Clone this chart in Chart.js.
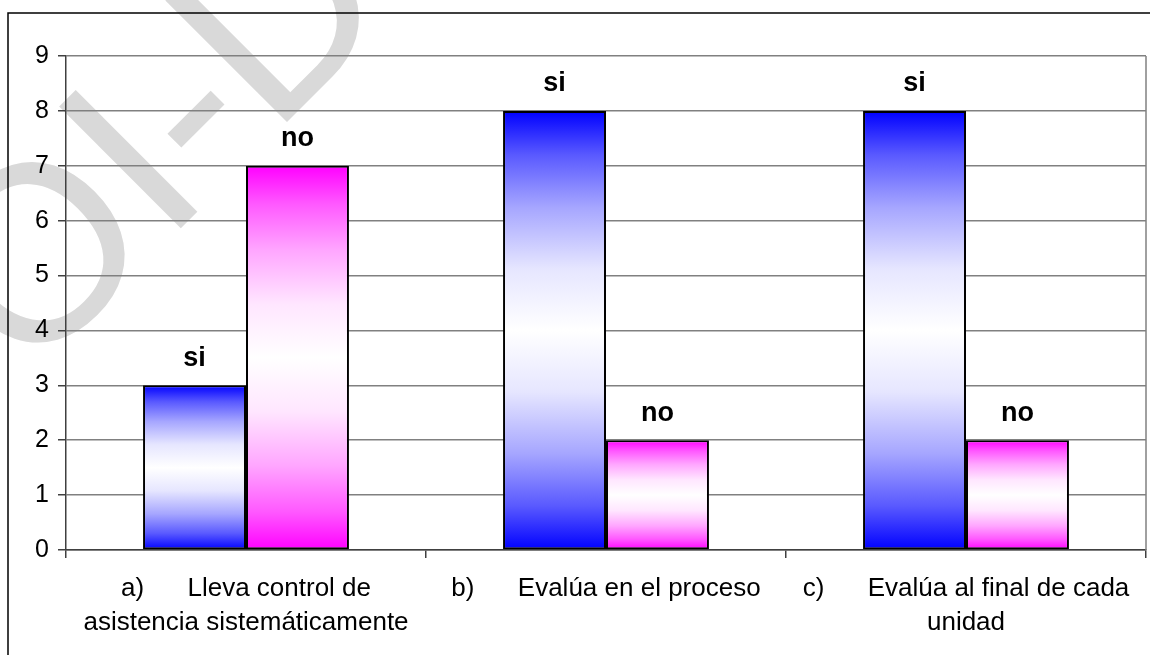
<!DOCTYPE html>
<html>
<head>
<meta charset="utf-8">
<script src="https://cdn.jsdelivr.net/npm/chart.js@4.4.1/dist/chart.umd.min.js"></script>
<style>
  html, body { margin: 0; padding: 0; background: #ffffff; }
  #wrap { width: 1150px; height: 655px; position: relative; }
</style>
</head>
<body>
<div id="wrap"><canvas id="barChart" width="1150" height="655"></canvas></div>
<script>
const categories = [
    ['a)      Lleva control de', 'asistencia sistemáticamente'],
    ['b)      Evalúa en el proceso'],
    ['c)      Evalúa al final de cada', 'unidad']
];
const seriesNames = ['si', 'no'];
const siValues = [3, 8, 8];
const noValues = [7, 2, 2];
const yTicks = [0, 1, 2, 3, 4, 5, 6, 7, 8, 9];
const watermarkText = 'OI-D';

const FONT = "'Liberation Sans', Arial, sans-serif";

// blend a hex colour toward white
function tint(hex, amount) {
    let r = parseInt(hex.substr(1, 2), 16);
    let g = parseInt(hex.substr(3, 2), 16);
    let b = parseInt(hex.substr(5, 2), 16);
    r = Math.round(r + (255 - r) * amount);
    g = Math.round(g + (255 - g) * amount);
    b = Math.round(b + (255 - b) * amount);
    return 'rgb(' + r + ',' + g + ',' + b + ')';
}

function barGradient(color) {
    return function (ctx) {
        const chart = ctx.chart;
        const y = chart.scales.y;
        if (!y || ctx.raw === undefined) {
            return color;
        }
        let top = y.getPixelForValue(ctx.raw);
        let bottom = y.getPixelForValue(0);
        if (!isFinite(top) || !isFinite(bottom) || bottom - top < 1) {
            return color;
        }
        let g = chart.ctx.createLinearGradient(0, top, 0, bottom);
        g.addColorStop(0, color);
        g.addColorStop(0.1, tint(color, 0.35));
        g.addColorStop(0.22, tint(color, 0.65));
        g.addColorStop(0.36, tint(color, 0.9));
        g.addColorStop(0.5, '#ffffff');
        g.addColorStop(0.64, tint(color, 0.9));
        g.addColorStop(0.78, tint(color, 0.65));
        g.addColorStop(0.9, tint(color, 0.35));
        g.addColorStop(1, color);
        return g;
    };
}

// watermark + outer frame, drawn under everything
const backdrop = {
    id: 'backdrop',
    beforeDraw(chart) {
        const c = chart.ctx;
        c.save();
        c.fillStyle = '#ffffff';
        c.fillRect(0, 0, chart.width, chart.height);
        c.translate(27, 382);
        c.rotate(-Math.PI / 4);
        c.fillStyle = '#d9d9d9';
        c.font = '250px ' + FONT;
        c.textAlign = 'left';
        c.textBaseline = 'alphabetic';
        c.fillText(watermarkText, 0, 0);
        c.restore();

        c.save();
        c.strokeStyle = '#000000';
        c.lineWidth = 1.5;
        c.beginPath();
        c.moveTo(8, chart.height);
        c.lineTo(8, 13);
        c.lineTo(chart.width, 13);
        c.stroke();
        c.restore();
    },
    beforeDatasetsDraw(chart) {
        const a = chart.chartArea;
        const c = chart.ctx;
        c.save();
        c.strokeStyle = '#808080';
        c.lineWidth = 1.5;
        c.beginPath();
        c.moveTo(a.right, a.top);
        c.lineTo(a.right, a.bottom);
        c.stroke();
        c.restore();
    }
};

// "si" / "no" above each bar
const barNames = {
    id: 'barNames',
    afterDatasetsDraw(chart) {
        const c = chart.ctx;
        c.save();
        c.font = 'bold 27px ' + FONT;
        c.fillStyle = '#000000';
        c.textAlign = 'center';
        c.textBaseline = 'middle';
        chart.data.datasets.forEach(function (ds, i) {
            chart.getDatasetMeta(i).data.forEach(function (bar) {
                c.fillText(ds.label, bar.x, bar.y - 27);
            });
        });
        c.restore();
    }
};

new Chart(document.getElementById('barChart').getContext('2d'), {
    type: 'bar',
    data: {
        labels: categories,
        datasets: [{
            label: seriesNames[0],
            data: siValues,
            backgroundColor: barGradient('#0000ff'),
            borderColor: '#000000',
            borderWidth: 2,
            borderSkipped: false
        }, {
            label: seriesNames[1],
            data: noValues,
            backgroundColor: barGradient('#ff00ff'),
            borderColor: '#000000',
            borderWidth: 2,
            borderSkipped: false
        }]
    },
    options: {
        responsive: false,
        animation: false,
        devicePixelRatio: 1,
        categoryPercentage: 0.572,
        barPercentage: 1.0,
        layout: { padding: { left: 0, top: 56, right: 4, bottom: 0 } },
        plugins: {
            legend: { display: false },
            tooltip: { enabled: false }
        },
        scales: {
            x: {
                offset: true,
                grid: {
                    offset: true,
                    drawOnChartArea: false,
                    drawTicks: true,
                    tickLength: 8,
                    color: '#404040',
                    lineWidth: 1.5
                },
                border: { display: true, color: '#404040', width: 1.5 },
                ticks: {
                    color: '#000000',
                    font: { family: FONT, size: 26, lineHeight: 1.31 },
                    padding: 14,
                    maxRotation: 0,
                    autoSkip: false
                },
                afterFit(scale) { scale.height = 105; }
            },
            y: {
                min: yTicks[0],
                max: yTicks[yTicks.length - 1],
                afterBuildTicks(scale) {
                    scale.ticks = yTicks.map(v => ({ value: v }));
                },
                grid: {
                    color: '#808080',
                    lineWidth: 1.5,
                    tickLength: 8,
                    tickColor: '#404040'
                },
                border: { display: true, color: '#404040', width: 1.5 },
                ticks: {
                    color: '#000000',
                    font: { family: FONT, size: 25 },
                    padding: 9
                },
                afterFit(scale) { scale.width = 66; }
            }
        }
    },
    plugins: [backdrop, barNames]
});
</script>
</body>
</html>
